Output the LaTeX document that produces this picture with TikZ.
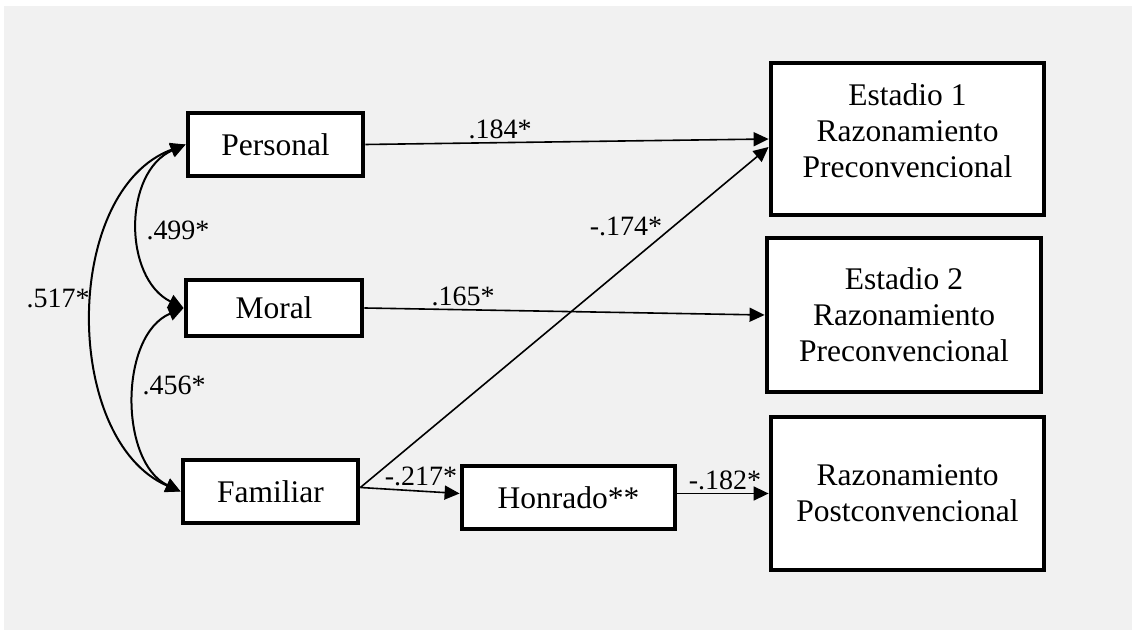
\documentclass[tikz,border=0pt]{standalone}
\usepackage{fontspec}
\setmainfont{Liberation Serif}
\usetikzlibrary{arrows.meta,calc}
\definecolor{bgray}{RGB}{241,241,241}
\begin{document}
\begin{tikzpicture}[x=0.5pt,y=-0.5pt,
  box/.style={draw=black,line width=2.4pt,fill=white,inner sep=0pt,align=center,
    font=\fontsize{15.75}{18}\selectfont},
  path/.style={line width=0.8pt,-{Triangle[length=7.5pt,width=7pt]}},
  cov/.style={line width=1pt,{Triangle[length=7.5pt,width=7pt]}-{Triangle[length=7.5pt,width=7pt]}},
  lab/.style={font=\fontsize{14}{16}\selectfont,inner sep=0pt}]
\useasboundingbox (0,0) rectangle (1132,630);
\fill[white] (0,0) rectangle (1132,630);
\fill[bgray] (4,6) rectangle (1132,630);
% boxes
\node[box,minimum width=87.5pt,minimum height=31.5pt] (P) at (275.5,144.5) {Personal};
\node[box,minimum width=88pt,minimum height=28pt] (M) at (274,308) {Moral};
\node[box,minimum width=87.5pt,minimum height=31.5pt] (F) at (270.5,491.5) {Familiar};
\node[box,minimum width=106.5pt,minimum height=31.5pt] (H) at (568.5,497.5) {Honrado**};
\node[box,minimum width=136.5pt,minimum height=76pt] (E1) at (907.5,139) {\raisebox{-1.5pt}[0pt][0pt]{\begin{tabular}{@{}c@{}}Estadio 1\\Razonamiento\\Preconvencional\end{tabular}}};
\node[box,minimum width=137pt,minimum height=77pt] (E2) at (904,315) {Estadio 2\\Razonamiento\\Preconvencional};
\node[box,minimum width=136.5pt,minimum height=76.5pt] (E3) at (907.5,493.5) {Razonamiento\\Postconvencional};
% anchors
\coordinate (Fo) at ([yshift=2pt]F.east);
\coordinate (E1d) at ([yshift=-4pt]E1.west);
\coordinate (Hi) at ([yshift=2pt]H.west);
\coordinate (Ho) at ([yshift=2pt]H.east);
\coordinate (E3i) at (E3.west|-Ho);
% paths
\draw[path] (P.east) -- (E1.west);
\draw[path] (M.east) -- (E2.west);
\draw[path] (Fo) -- (E1d);
\draw[path] (Fo) -- (Hi);
\draw[path] (Ho) -- (E3i);
% covariances
\draw[cov] (P.west) .. controls (123,172) and (123,278) .. (M.west);
\draw[cov] (M.west) .. controls (119,335) and (119,462) .. (F.west);
\draw[cov] (P.west) .. controls (62,190) and (62,440) .. (F.west);
% labels
\node[lab] (l1) at (500,129) {.184*};
\node[lab] (l2) at (463,296) {.165*};
\node[lab] (l3) at (626,226) {-.174*};
\node[lab] (l4) at (421,476) {-.217*};
\node[lab] (l5) at (725,480) {-.182*};
\node[lab] (l6) at (178,230) {.499*};
\node[lab] (l7) at (174,385) {.456*};
\node[lab] (l8) at (58,298) {.517*};
\end{tikzpicture}
\end{document}
